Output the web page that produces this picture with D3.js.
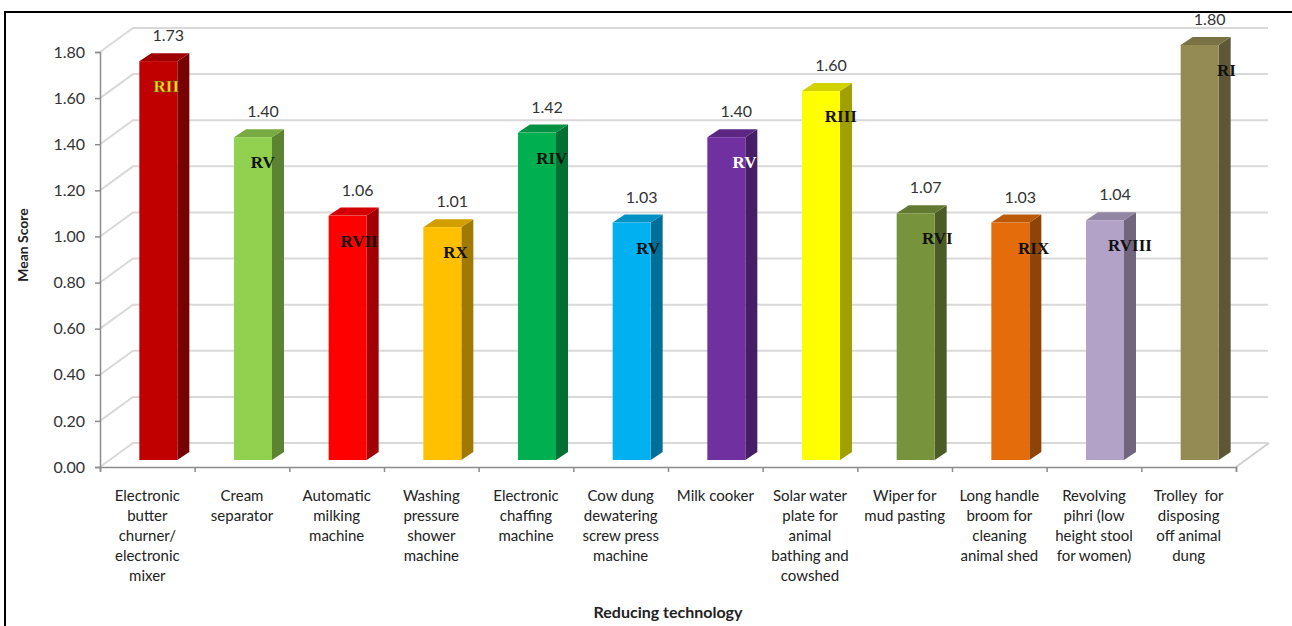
<!DOCTYPE html>
<html>
<head>
<meta charset="utf-8">
<script src="https://d3js.org/d3.v7.min.js"></script>
<style>
  html, body { margin: 0; padding: 0; background: #fff; }
  svg { display: block; }
  text { white-space: pre; }
</style>
</head>
<body>
<svg id="chart" width="1292" height="626"></svg>
<script>
// ---------------- DATA ----------------
const categories = [
  "Electronic butter churner/ electronic mixer",
  "Cream separator",
  "Automatic milking machine",
  "Washing pressure shower machine",
  "Electronic chaffing machine",
  "Cow dung dewatering screw press machine",
  "Milk cooker",
  "Solar water plate for animal bathing and cowshed",
  "Wiper for mud pasting",
  "Long handle broom for cleaning animal shed",
  "Revolving pihri (low height stool for women)",
  "Trolley  for disposing off animal dung"
];
const categoryLines = [
  ["Electronic", "butter", "churner/", "electronic", "mixer"],
  ["Cream", "separator"],
  ["Automatic", "milking", "machine"],
  ["Washing", "pressure", "shower", "machine"],
  ["Electronic", "chaffing", "machine"],
  ["Cow dung", "dewatering", "screw press", "machine"],
  ["Milk cooker"],
  ["Solar water", "plate for", "animal", "bathing and", "cowshed"],
  ["Wiper for", "mud pasting"],
  ["Long handle", "broom for", "cleaning", "animal shed"],
  ["Revolving", "pihri (low", "height stool", "for women)"],
  ["Trolley  for", "disposing", "off animal", "dung"]
];
const meanScores = [1.73, 1.40, 1.06, 1.01, 1.42, 1.03, 1.40, 1.60, 1.07, 1.03, 1.04, 1.80];
const ranks = ["RII", "RV", "RVII", "RX", "RIV", "RV", "RV", "RIII", "RVI", "RIX", "RVIII", "RI"];
const yTicks = [0, 0.2, 0.4, 0.6, 0.8, 1.0, 1.2, 1.4, 1.6, 1.8];
const yTitle = "Mean Score";
const xTitle = "Reducing technology";

// ---------------- STYLE ----------------
const barColors = ["#C00000", "#92D050", "#FF0000", "#FFC000", "#00B050", "#00B0F0",
                   "#7030A0", "#FFFF00", "#77933C", "#E46C0A", "#B3A2C7", "#948A54"];
const rankFill = { 0: "#FFE21A", 6: "#FFFFFF" };

// ---------------- LAYOUT ----------------
const svg = d3.select("#chart");
const x0 = 100, x1 = 1236;
const yBase = 467, yTop = 52;
const DX = 33, DY = -24;          // wall depth
const BAR_OFF_Y = -7;             // bar plane offset
const BW = 38, BDX = 12, BDY = -8; // bar width and depth

const x = d3.scaleBand().domain(d3.range(categories.length)).range([x0, x1]).padding(0);
const y = d3.scaleLinear().domain([0, 1.8]).range([yBase, yTop]);

// gridlines (side wall + back wall)
const grid = svg.append("g");
yTicks.forEach(t => {
  const yy = y(t);
  grid.append("path")
    .attr("d", `M${x0},${yy} L${x0 + DX},${yy + DY} L${x1 + DX - 1},${yy + DY}`)
    .attr("fill", "none").attr("stroke", "#d9d9d9").attr("stroke-width", 2);
});
// floor right edge
grid.append("path")
  .attr("d", `M${x1},${yBase} L${x1 + DX},${yBase + DY}`)
  .attr("fill", "none").attr("stroke", "#d0d0d0").attr("stroke-width", 2);

// y axis
const yAxis = d3.axisLeft(y).tickValues(yTicks).tickFormat(d3.format(".2f")).tickSize(5).tickPadding(10);
const gy = svg.append("g").attr("transform", `translate(${x0},0)`).call(yAxis);
gy.select(".domain").attr("stroke", "#8c8c8c").attr("stroke-width", 1.5);
gy.selectAll(".tick line").attr("stroke", "#8c8c8c").attr("stroke-width", 1.5);
gy.selectAll(".tick text").attr("font-family", "Lato, 'Open Sans', sans-serif")
  .attr("font-size", 16).attr("fill", "#333");

// x axis
const xAxis = d3.axisBottom(d3.scaleLinear().domain([0, categories.length]).range([x0, x1]))
  .tickValues(d3.range(categories.length + 1)).tickSize(5).tickFormat("");
const gx = svg.append("g").attr("transform", `translate(0,${yBase})`).call(xAxis);
gx.select(".domain").attr("stroke", "#8c8c8c").attr("stroke-width", 1.5);
gx.selectAll(".tick line").attr("stroke", "#8c8c8c").attr("stroke-width", 1.5);

// bars
const bars = svg.append("g");
meanScores.forEach((v, i) => {
  const c = d3.color(barColors[i]);
  const left = x(i) + x.bandwidth() / 2 + 11 - BW / 2;
  const right = left + BW;
  const top = y(v) + BAR_OFF_Y;
  const bot = y(0) + BAR_OFF_Y;
  const g = bars.append("g");
  g.append("path")
    .attr("d", `M${right},${top} L${right + BDX},${top + BDY} L${right + BDX},${bot + BDY} L${right},${bot} Z`)
    .attr("fill", c.darker(1.3));
  g.append("path")
    .attr("d", `M${left},${top} L${left + BDX},${top + BDY} L${right + BDX},${top + BDY} L${right},${top} Z`)
    .attr("fill", c.darker(0.55));
  g.append("rect").attr("x", left).attr("y", top).attr("width", BW).attr("height", bot - top)
    .attr("fill", c);

  // value label
  svg.append("text").attr("x", left + BW / 2 + 10).attr("y", top - 20)
    .attr("text-anchor", "middle").attr("font-family", "Lato, 'Open Sans', sans-serif")
    .attr("font-size", 16).attr("fill", "#333").text(v.toFixed(2));

  // rank label
  svg.append("text").attr("x", left + BW / 2 + 8 + 1.7 * i).attr("y", top + 31)
    .attr("text-anchor", "middle").attr("font-family", "'Liberation Serif', 'Times New Roman', serif")
    .attr("font-weight", "bold").attr("font-size", 17)
    .attr("fill", rankFill[i] || "#111")
    .attr("stroke", i === 0 ? "#5a4a00" : "none").attr("stroke-width", i === 0 ? 0.4 : 0)
    .text(ranks[i]);
});

// category labels
categoryLines.forEach((lines, i) => {
  const t = svg.append("text").attr("text-anchor", "middle")
    .attr("font-family", "Lato, 'Open Sans', sans-serif").attr("font-size", 15).attr("fill", "#222");
  lines.forEach((ln, k) => {
    t.append("tspan").attr("x", x(i) + x.bandwidth() / 2).attr("y", 501 + k * 20).text(ln);
  });
});

// axis titles
svg.append("text").attr("transform", "translate(28,245) rotate(-90)")
  .attr("text-anchor", "middle").attr("font-family", "Lato, 'Open Sans', sans-serif")
  .attr("font-weight", "bold").attr("font-size", 14).attr("fill", "#222").text(yTitle);
svg.append("text").attr("x", 668).attr("y", 618)
  .attr("text-anchor", "middle").attr("font-family", "Lato, 'Open Sans', sans-serif")
  .attr("font-weight", "bold").attr("font-size", 16).attr("fill", "#222").text(xTitle);

// frame (drawn last so it overlays the top label like the reference)
svg.append("rect").attr("x", 5).attr("y", 12).attr("width", 1300).attr("height", 700)
  .attr("fill", "none").attr("stroke", "#000").attr("stroke-width", 2);
</script>
</body>
</html>
